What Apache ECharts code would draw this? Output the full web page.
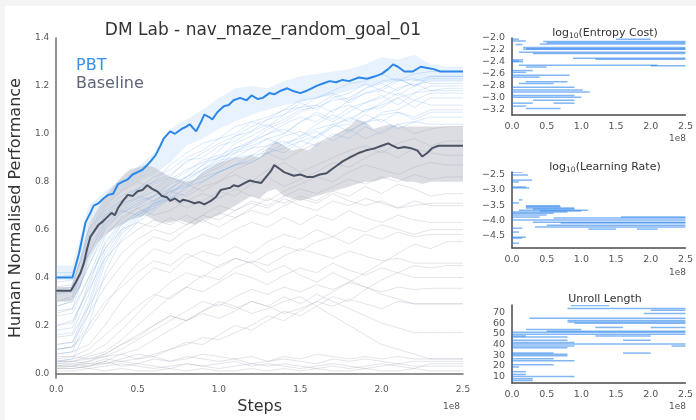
<!DOCTYPE html>
<html>
<head>
<meta charset="utf-8">
<script src="https://cdn.jsdelivr.net/npm/echarts@6/dist/echarts.min.js"></script>
<style>
  html, body { margin: 0; padding: 0; background: #f4f4f4; }
  #chart { width: 696px; height: 420px; }
</style>
</head>
<body>
<div id="chart"></div>
<script>
// steps are in units of 1e8
const runSteps = [0, 0.1, 0.2, 0.3, 0.4, 0.5, 0.6, 0.7, 0.8, 0.9, 1.0, 1.1, 1.2, 1.3, 1.4, 1.5, 1.6, 1.7, 1.8, 1.9, 2.0, 2.1, 2.2, 2.3, 2.4, 2.5]

const baselineRuns = [
  [0.30,0.32,0.55,0.66,0.70,0.74,0.72,0.76,0.74,0.78,0.80,0.83,0.80,0.85,0.88,0.84,0.87,0.90,0.93,0.95,0.92,0.96,0.98,0.95,0.97,0.97],
  [0.33,0.35,0.50,0.62,0.68,0.66,0.70,0.73,0.69,0.72,0.76,0.74,0.79,0.82,0.78,0.81,0.84,0.88,0.86,0.90,0.93,0.90,0.94,0.92,0.91,0.91],
  [0.28,0.30,0.45,0.58,0.64,0.69,0.66,0.68,0.72,0.75,0.73,0.77,0.74,0.72,0.76,0.79,0.82,0.80,0.84,0.87,0.85,0.83,0.86,0.88,0.87,0.87],
  [0.36,0.37,0.60,0.70,0.76,0.80,0.77,0.82,0.79,0.76,0.80,0.85,0.88,0.92,0.89,0.93,0.96,0.99,1.02,0.98,1.01,1.04,1.00,1.02,1.03,1.03],
  [0.25,0.27,0.40,0.52,0.60,0.63,0.61,0.65,0.62,0.66,0.70,0.68,0.72,0.70,0.74,0.77,0.75,0.78,0.81,0.79,0.82,0.80,0.83,0.81,0.82,0.82],
  [0.20,0.22,0.35,0.48,0.55,0.60,0.64,0.62,0.66,0.63,0.67,0.65,0.69,0.73,0.71,0.74,0.72,0.76,0.74,0.78,0.75,0.79,0.77,0.74,0.75,0.75],
  [0.15,0.16,0.28,0.40,0.50,0.56,0.60,0.58,0.62,0.66,0.64,0.68,0.71,0.69,0.73,0.70,0.68,0.72,0.70,0.73,0.71,0.69,0.72,0.70,0.70,0.70],
  [0.10,0.11,0.18,0.28,0.38,0.46,0.52,0.50,0.55,0.58,0.56,0.60,0.63,0.61,0.65,0.62,0.66,0.64,0.68,0.65,0.63,0.66,0.64,0.63,0.63,0.63],
  [0.08,0.09,0.12,0.20,0.30,0.38,0.44,0.42,0.48,0.51,0.49,0.53,0.50,0.55,0.58,0.56,0.60,0.57,0.61,0.59,0.62,0.60,0.58,0.60,0.60,0.60],
  [0.05,0.06,0.08,0.12,0.18,0.25,0.32,0.38,0.42,0.40,0.45,0.48,0.46,0.50,0.53,0.51,0.55,0.57,0.54,0.58,0.56,0.59,0.57,0.58,0.58,0.58],
  [0.04,0.05,0.07,0.09,0.14,0.20,0.26,0.32,0.36,0.41,0.39,0.44,0.47,0.45,0.49,0.52,0.50,0.48,0.51,0.49,0.47,0.48,0.46,0.46,0.46,0.46],
  [0.06,0.07,0.10,0.16,0.22,0.28,0.33,0.31,0.36,0.34,0.38,0.42,0.40,0.37,0.41,0.44,0.42,0.46,0.43,0.41,0.44,0.42,0.40,0.40,0.40,0.40],
  [0.03,0.04,0.05,0.07,0.10,0.14,0.18,0.22,0.26,0.30,0.28,0.32,0.35,0.33,0.36,0.34,0.37,0.35,0.38,0.36,0.34,0.36,0.35,0.355,0.355,0.355],
  [0.05,0.05,0.06,0.08,0.12,0.15,0.20,0.24,0.22,0.26,0.29,0.27,0.30,0.28,0.25,0.27,0.30,0.28,0.31,0.29,0.27,0.30,0.29,0.29,0.29,0.29],
  [0.02,0.02,0.03,0.04,0.05,0.06,0.08,0.10,0.13,0.12,0.16,0.20,0.18,0.22,0.26,0.24,0.28,0.32,0.30,0.35,0.39,0.42,0.45,0.44,0.45,0.45],
  [0.03,0.03,0.04,0.04,0.06,0.08,0.07,0.10,0.12,0.15,0.14,0.17,0.20,0.24,0.22,0.26,0.30,0.34,0.38,0.42,0.46,0.50,0.54,0.52,0.55,0.55],
  [0.02,0.03,0.05,0.08,0.12,0.16,0.20,0.24,0.22,0.26,0.30,0.28,0.25,0.27,0.30,0.32,0.28,0.24,0.20,0.16,0.12,0.10,0.08,0.06,0.06,0.06],
  [0.02,0.02,0.03,0.05,0.08,0.10,0.14,0.18,0.22,0.25,0.23,0.26,0.30,0.28,0.32,0.29,0.33,0.30,0.27,0.24,0.21,0.19,0.17,0.17,0.17,0.17],
  [0.05,0.05,0.04,0.06,0.05,0.04,0.06,0.05,0.07,0.06,0.05,0.06,0.04,0.05,0.06,0.05,0.04,0.06,0.05,0.06,0.05,0.04,0.05,0.05,0.05,0.05],
  [0.03,0.03,0.02,0.03,0.04,0.03,0.02,0.03,0.04,0.03,0.04,0.05,0.03,0.04,0.03,0.02,0.03,0.04,0.03,0.02,0.03,0.04,0.03,0.03,0.03,0.03],
  [0.01,0.01,0.02,0.01,0.02,0.01,0.01,0.02,0.01,0.02,0.01,0.01,0.02,0.01,0.02,0.01,0.02,0.01,0.01,0.02,0.01,0.01,0.02,0.01,0.01,0.01],
  [0.07,0.07,0.06,0.07,0.08,0.06,0.07,0.05,0.06,0.08,0.07,0.06,0.07,0.05,0.07,0.06,0.08,0.07,0.06,0.07,0.06,0.07,0.06,0.06,0.06,0.06],
  [0.04,0.04,0.03,0.05,0.03,0.04,0.03,0.02,0.04,0.03,0.02,0.03,0.04,0.03,0.04,0.03,0.02,0.03,0.02,0.03,0.04,0.03,0.02,0.04,0.04,0.04],
  [0.10,0.11,0.20,0.30,0.36,0.42,0.47,0.45,0.50,0.47,0.44,0.48,0.46,0.42,0.45,0.41,0.38,0.42,0.39,0.36,0.33,0.31,0.29,0.29,0.29,0.29],
  [0.12,0.13,0.25,0.36,0.45,0.52,0.57,0.55,0.60,0.64,0.61,0.65,0.68,0.66,0.70,0.73,0.71,0.75,0.72,0.70,0.72,0.69,0.70,0.71,0.71,0.71]
]

const pbtRuns = [
  [0.42,0.42,0.60,0.68,0.72,0.77,0.80,0.87,0.92,0.96,0.98,1.03,1.05,1.03,1.08,1.11,1.12,1.09,1.14,1.17,1.18,1.16,1.20,1.22,1.22,1.22],
  [0.38,0.39,0.55,0.66,0.71,0.73,0.79,0.82,0.89,0.90,0.95,0.97,1.01,1.04,1.00,1.05,1.09,1.06,1.11,1.13,1.16,1.12,1.17,1.18,1.18,1.18],
  [0.33,0.34,0.50,0.63,0.68,0.72,0.74,0.80,0.84,0.89,0.91,0.94,0.96,1.00,1.02,0.99,1.04,1.08,1.05,1.10,1.12,1.15,1.11,1.15,1.15,1.15],
  [0.28,0.30,0.45,0.60,0.67,0.70,0.74,0.77,0.82,0.85,0.89,0.90,0.94,0.95,0.99,1.01,0.98,1.03,1.07,1.04,1.09,1.10,1.14,1.12,1.12,1.12],
  [0.24,0.25,0.40,0.57,0.65,0.69,0.72,0.76,0.78,0.83,0.86,0.90,0.91,0.95,0.97,0.94,0.99,1.03,1.04,1.08,1.05,1.09,1.06,1.09,1.09,1.09],
  [0.20,0.21,0.36,0.55,0.63,0.67,0.71,0.73,0.78,0.80,0.84,0.87,0.91,0.92,0.96,0.98,1.01,0.97,1.01,1.05,1.06,1.02,1.05,1.07,1.07,1.07],
  [0.16,0.17,0.33,0.52,0.62,0.66,0.69,0.73,0.75,0.80,0.84,0.87,0.88,0.92,0.94,0.97,0.99,1.04,1.06,1.10,1.11,1.15,1.17,1.20,1.20,1.20],
  [0.12,0.13,0.30,0.50,0.60,0.66,0.71,0.77,0.82,0.87,0.90,0.96,0.99,1.03,1.06,1.10,1.11,1.14,1.15,1.19,1.21,1.18,1.22,1.24,1.24,1.24],
  [0.08,0.09,0.25,0.46,0.58,0.64,0.71,0.74,0.81,0.85,0.90,0.92,0.97,1.00,1.04,1.07,1.05,1.10,1.12,1.09,1.13,1.17,1.14,1.17,1.17,1.17],
  [0.05,0.06,0.20,0.42,0.56,0.63,0.68,0.73,0.77,0.84,0.87,0.92,0.94,0.98,1.00,1.05,1.08,1.05,1.09,1.13,1.15,1.19,1.21,1.18,1.19,1.19],
  [0.35,0.36,0.58,0.69,0.74,0.77,0.82,0.85,0.90,0.93,0.98,1.00,1.05,1.07,1.10,1.11,1.15,1.17,1.14,1.19,1.22,1.23,1.20,1.24,1.24,1.24],
  [0.30,0.31,0.52,0.64,0.69,0.73,0.76,0.81,0.85,0.88,0.90,0.93,0.95,0.98,0.95,0.99,1.02,1.04,1.01,1.05,1.08,1.09,1.07,1.10,1.10,1.10],
  [0.26,0.27,0.47,0.61,0.67,0.71,0.74,0.79,0.82,0.87,0.93,0.99,1.01,1.06,1.08,1.13,1.10,1.15,1.17,1.21,1.18,1.22,1.23,1.21,1.21,1.21],
  [0.18,0.19,0.38,0.54,0.62,0.67,0.70,0.76,0.79,0.82,0.84,0.87,0.89,0.94,0.92,0.97,0.95,1.00,0.98,1.03,1.00,1.04,1.05,1.04,1.04,1.04],
  [0.10,0.11,0.28,0.48,0.59,0.65,0.69,0.75,0.80,0.85,0.88,0.94,0.97,1.02,1.05,1.09,1.12,1.16,1.13,1.17,1.19,1.23,1.20,1.23,1.23,1.23],
  [0.40,0.41,0.57,0.67,0.72,0.75,0.80,0.83,0.88,0.92,0.96,0.99,1.03,1.06,1.10,1.14,1.15,1.18,1.21,1.22,1.25,1.22,1.25,1.26,1.26,1.26]
]

const pbtBandLow  = [0.39,0.39,0.62,0.70,0.76,0.80,0.83,0.88,0.95,0.98,1.02,1.05,1.08,1.10,1.12,1.13,1.15,1.16,1.18,1.20,1.21,1.22,1.22,1.22,1.22,1.22]
const pbtBandHigh = [0.45,0.45,0.70,0.76,0.81,0.86,0.92,1.02,1.06,1.10,1.15,1.19,1.20,1.19,1.22,1.24,1.25,1.26,1.27,1.29,1.32,1.31,1.33,1.29,1.28,1.28]

const pbtBest = [[0,0.40],[0.10,0.40],[0.14,0.50],[0.18,0.63],[0.21,0.67],[0.23,0.70],[0.26,0.71],[0.29,0.73],[0.32,0.745],[0.35,0.75],[0.38,0.79],[0.41,0.80],[0.44,0.81],[0.47,0.83],[0.50,0.84],[0.53,0.85],[0.56,0.87],[0.58,0.885],[0.61,0.91],[0.64,0.95],[0.66,0.98],[0.70,1.01],[0.73,1.00],[0.77,1.02],[0.80,1.03],[0.82,1.04],[0.86,1.01],[0.89,1.05],[0.91,1.08],[0.94,1.07],[0.96,1.06],[0.99,1.09],[1.03,1.115],[1.06,1.12],[1.09,1.14],[1.13,1.15],[1.17,1.14],[1.20,1.16],[1.24,1.145],[1.27,1.15],[1.31,1.17],[1.34,1.165],[1.38,1.18],[1.42,1.19],[1.45,1.18],[1.50,1.17],[1.54,1.18],[1.57,1.19],[1.60,1.20],[1.64,1.21],[1.68,1.22],[1.72,1.215],[1.76,1.225],[1.80,1.22],[1.86,1.235],[1.91,1.23],[1.96,1.24],[2.00,1.25],[2.04,1.27],[2.07,1.29],[2.10,1.28],[2.14,1.26],[2.19,1.26],[2.24,1.28],[2.28,1.275],[2.32,1.27],[2.36,1.26],[2.40,1.26],[2.50,1.26]]

const baselineMean = [[0,0.345],[0.09,0.345],[0.12,0.38],[0.15,0.42],[0.17,0.46],[0.19,0.52],[0.21,0.57],[0.24,0.60],[0.26,0.62],[0.28,0.63],[0.31,0.65],[0.34,0.67],[0.36,0.66],[0.38,0.69],[0.41,0.72],[0.44,0.745],[0.47,0.74],[0.50,0.76],[0.53,0.765],[0.56,0.785],[0.59,0.77],[0.62,0.76],[0.65,0.74],[0.68,0.735],[0.70,0.72],[0.73,0.73],[0.76,0.715],[0.78,0.725],[0.81,0.72],[0.85,0.71],[0.88,0.715],[0.91,0.705],[0.95,0.72],[0.98,0.735],[1.01,0.765],[1.04,0.77],[1.07,0.775],[1.09,0.785],[1.12,0.78],[1.16,0.795],[1.19,0.805],[1.22,0.80],[1.26,0.795],[1.29,0.82],[1.32,0.845],[1.34,0.87],[1.37,0.855],[1.40,0.84],[1.42,0.835],[1.46,0.825],[1.50,0.83],[1.54,0.82],[1.58,0.82],[1.62,0.83],[1.66,0.835],[1.70,0.855],[1.73,0.87],[1.76,0.885],[1.80,0.90],[1.83,0.91],[1.86,0.92],[1.90,0.93],[1.93,0.935],[1.96,0.94],[2.00,0.95],[2.04,0.96],[2.07,0.95],[2.10,0.94],[2.14,0.945],[2.18,0.94],[2.22,0.93],[2.25,0.905],[2.28,0.92],[2.31,0.94],[2.35,0.95],[2.40,0.95],[2.50,0.95]]

const bandSteps = [0,0.09,0.15,0.20,0.25,0.30,0.35,0.40,0.45,0.50,0.55,0.60,0.65,0.70,0.75,0.80,0.85,0.90,0.95,1.00,1.05,1.10,1.15,1.20,1.25,1.30,1.35,1.40,1.45,1.50,1.55,1.60,1.65,1.70,1.75,1.80,1.85,1.90,1.95,2.00,2.05,2.10,2.15,2.20,2.25,2.30,2.40,2.50]
const baseBandLow  = [0.30,0.30,0.36,0.48,0.54,0.58,0.60,0.62,0.64,0.65,0.66,0.64,0.63,0.63,0.64,0.63,0.62,0.64,0.65,0.66,0.68,0.70,0.72,0.74,0.73,0.76,0.77,0.74,0.73,0.72,0.73,0.74,0.75,0.76,0.77,0.78,0.79,0.80,0.80,0.81,0.82,0.81,0.80,0.80,0.79,0.80,0.80,0.80]
const baseBandHigh = [0.36,0.36,0.48,0.62,0.68,0.74,0.78,0.82,0.85,0.86,0.87,0.86,0.84,0.82,0.81,0.80,0.81,0.84,0.86,0.88,0.89,0.90,0.90,0.91,0.90,0.94,0.97,0.95,0.93,0.94,0.93,0.96,0.97,0.99,1.01,1.03,1.06,1.05,1.02,1.03,1.04,1.03,1.03,1.03,1.03,1.03,1.03,1.03]

// hyperparameter segments: [start step, end step, value]
const entropySegs = [[0.45,2.5,-2.06],[0.5,2.5,-2.08],[0.4,2.5,-2.10],[0.16,2.5,-2.16],[0.2,2.5,-2.18],[0.16,2.5,-2.19],[0.1,2.5,-2.24],[0.3,2.5,-2.26],[0.88,2.5,-2.34],[1.2,2.5,-2.36],[0,0.16,-2.37],[0,0.16,-2.40],[0,0.1,-2.39],[0.1,2.1,-2.46],[2.0,2.5,-2.47],[0.2,0.5,-2.49],[0,0.1,-2.02],[0,0.2,-2.05],[1.5,2.0,-2.02],[0.05,0.15,-2.11],[0,0.83,-2.63],[0,0.4,-2.66],[0.2,0.8,-2.74],[0.1,0.6,-2.77],[0,0.9,-2.83],[0,1.02,-2.88],[0,1.12,-2.91],[0,0.9,-2.97],[0,1.0,-3.0],[0.3,0.9,-3.05],[0,0.3,-3.1],[0.6,0.9,-3.1],[0,0.2,-3.15],[0.2,0.7,-3.19],[0,0.3,-2.55],[0,0.2,-2.58]]
const lrSegs = [[0,0.15,-2.4],[0,0.23,-2.5],[0,0.29,-2.67],[0,0.1,-2.73],[0,0.2,-2.9],[0,0.25,-2.93],[0.1,0.15,-3.33],[0,0.1,-3.43],[0.2,0.69,-3.52],[0.2,0.7,-3.56],[0.2,0.9,-3.6],[0.1,1.1,-3.67],[0.0,0.8,-3.73],[0.0,0.6,-3.77],[0,0.5,-3.83],[0,0.4,-3.9],[1.57,2.5,-3.9],[0.6,2.5,-3.93],[0,2.5,-4.0],[0.3,2.5,-4.07],[0.7,2.5,-4.1],[0.5,2.5,-4.17],[0.33,2.5,-4.23],[1.1,1.5,-4.3],[1.8,2.1,-4.3],[0,0.15,-4.27],[0,0.1,-4.4],[0,0.2,-4.57],[0,0.15,-4.6],[0,0.1,-4.77],[0.3,0.9,-3.63],[0.4,1.0,-3.7]]
const unrollSegs = [[0.85,1.4,76.5],[0.8,2.5,73.7],[2.0,2.5,72],[1.9,2.5,69],[0.25,2.5,64.5],[0.8,2.5,62.6],[0.8,2.5,61],[0.9,2.5,60],[1.2,1.6,56],[2.0,2.5,56],[0.2,1.0,54],[0.5,2.5,52.5],[0,2.5,51.5],[0,2.5,49.7],[0,0.2,48],[1.2,2.0,48],[0,0.8,47],[0,0.8,44],[1.6,2.0,44],[0,0.9,42],[0,2.5,40.5],[0,0.9,38.6],[2.3,2.5,38.6],[0,0.8,37],[1.6,2.0,32],[0,0.6,32],[0,0.8,31],[0,0.8,29.4],[0,0.6,26.6],[0,0.9,24.8],[0,0.6,21],[0,0.1,19],[0,0.2,14.6],[0,0.2,12],[0,0.9,10],[0,0.3,8],[0,0.3,6.3]]

const mainYTicks = [0, 0.2, 0.4, 0.6, 0.8, 1.0, 1.2, 1.4]
const entropyTicks = [-3.2, -3.0, -2.8, -2.6, -2.4, -2.2, -2.0]
const lrTicks = [-4.5, -4.0, -3.5, -3.0, -2.5]
const unrollTicks = [10, 20, 30, 40, 50, 60, 70]

const FONT = 'DejaVu Sans'
const chart = echarts.init(document.getElementById('chart'))

const minus = v => v.toFixed(1).replace('-', '\u2212')

function xAxisFor(grid, fontSize) {
  return {
    type: 'value', gridIndex: grid, min: 0, max: 2.5, interval: 0.5,
    axisLine: { lineStyle: { color: grid === 0 ? '#6e6e6e' : '#4a4a4a', width: 1.5 } },
    axisTick: { show: false }, splitLine: { show: false },
    axisLabel: { color: '#555', fontSize: fontSize, fontFamily: FONT, margin: 7, formatter: v => v.toFixed(1) }
  }
}

function yAxisFor(grid, min, max, ticks, fmt, fontSize) {
  return {
    type: 'value', gridIndex: grid, min: min, max: max,
    axisLine: { show: true, lineStyle: { color: grid === 0 ? '#6e6e6e' : '#4a4a4a', width: 1.5 } },
    axisTick: { show: false }, splitLine: { show: false },
    axisLabel: { color: '#555', fontSize: fontSize, fontFamily: FONT, margin: 7, customValues: ticks, formatter: fmt }
  }
}

function segRender(params, api) {
  const a = api.coord([api.value(0), api.value(2)])
  const b = api.coord([api.value(1), api.value(2)])
  return {
    type: 'line',
    shape: { x1: a[0], y1: a[1], x2: b[0], y2: b[1] },
    style: { stroke: 'rgba(40,130,235,0.58)', lineWidth: 1.5 }
  }
}

const series = []

// shaded range drawn as one polygon through the axis scales
function band(steps, low, high, color) {
  series.push({
    type: 'custom', xAxisIndex: 0, yAxisIndex: 0, data: [[steps[0], low[0]]], silent: true, z: 1,
    renderItem: (params, api) => {
      const top = steps.map((s, i) => api.coord([s, high[i]]))
      const bottom = steps.map((s, i) => api.coord([s, low[i]])).reverse()
      return { type: 'polygon', shape: { points: top.concat(bottom) }, style: { fill: color } }
    }
  })
}

band(runSteps, pbtBandLow, pbtBandHigh, 'rgba(150,195,245,0.22)')
band(bandSteps, baseBandLow, baseBandHigh, 'rgba(185,188,198,0.5)')

baselineRuns.forEach(run => {
  series.push({
    type: 'line', data: runSteps.map((s, i) => [s, run[i]]), symbol: 'none', silent: true,
    lineStyle: { color: 'rgba(165,170,185,0.32)', width: 1 }, z: 2
  })
})
pbtRuns.forEach(run => {
  series.push({
    type: 'line', data: runSteps.map((s, i) => [s, run[i]]), symbol: 'none', silent: true,
    lineStyle: { color: 'rgba(95,165,240,0.24)', width: 1 }, z: 3
  })
})

series.push({
  type: 'line', data: baselineMean, symbol: 'none', silent: true,
  lineStyle: { color: '#4b5264', width: 2 }, z: 5
})
series.push({
  type: 'line', data: pbtBest, symbol: 'none', silent: true,
  lineStyle: { color: '#2c87e8', width: 2 }, z: 6
})

;[entropySegs, lrSegs, unrollSegs].forEach((segs, k) => {
  series.push({
    type: 'custom', xAxisIndex: k + 1, yAxisIndex: k + 1, data: segs,
    encode: { x: [0, 1], y: 2 }, renderItem: segRender, silent: true, clip: true
  })
})

chart.setOption({
  animation: false,
  backgroundColor: '#f4f4f4',
  grid: [
    { left: 55, top: 38, width: 408, height: 345 },
    { left: 512, top: 38, width: 175, height: 77 },
    { left: 512, top: 172, width: 175, height: 76 },
    { left: 512, top: 305, width: 175, height: 78 }
  ],
  title: [
    { text: 'DM Lab - nav_maze_random_goal_01', left: 258, top: 17, textAlign: 'center',
      textStyle: { fontFamily: FONT, fontSize: 17, fontWeight: 'normal', color: '#333' } },
    { text: 'log{s|10}(Entropy Cost)', left: 600, top: 21, textAlign: 'center',
      textStyle: { fontFamily: FONT, fontSize: 11, fontWeight: 'normal', color: '#333',
        rich: { s: { fontSize: 7.5, fontFamily: FONT, color: '#333', padding: [6, 0, 0, 0] } } } },
    { text: 'log{s|10}(Learning Rate)', left: 600, top: 155, textAlign: 'center',
      textStyle: { fontFamily: FONT, fontSize: 11, fontWeight: 'normal', color: '#333',
        rich: { s: { fontSize: 7.5, fontFamily: FONT, color: '#333', padding: [6, 0, 0, 0] } } } },
    { text: 'Unroll Length', left: 600, top: 289, textAlign: 'center',
      textStyle: { fontFamily: FONT, fontSize: 11, fontWeight: 'normal', color: '#333' } }
  ],
  xAxis: [
    Object.assign(xAxisFor(0, 9), { name: 'Steps', nameLocation: 'middle', nameGap: 18,
      nameTextStyle: { fontFamily: FONT, fontSize: 16, color: '#333' } }),
    xAxisFor(1, 9.5), xAxisFor(2, 9.5), xAxisFor(3, 9.5)
  ],
  yAxis: [
    Object.assign(yAxisFor(0, -0.02, 1.4, mainYTicks, v => v.toFixed(1), 9), {
      name: 'Human Normalised Performance', nameLocation: 'middle', nameGap: 29,
      nameTextStyle: { fontFamily: FONT, fontSize: 16, color: '#333' } }),
    yAxisFor(1, -3.3, -2.0, entropyTicks, minus, 9.5),
    yAxisFor(2, -4.93, -2.4, lrTicks, minus, 9.5),
    yAxisFor(3, 4, 77, unrollTicks, v => String(v), 9.5)
  ],
  graphic: [
    { type: 'rect', shape: { x: 5, y: 6, width: 691, height: 414 }, style: { fill: '#fff' }, z: -10, silent: true },
    { type: 'text', x: 76, y: 58, style: { text: 'PBT', fill: '#3a8ee8', font: '16px "DejaVu Sans"' } },
    { type: 'text', x: 76, y: 76, style: { text: 'Baseline', fill: '#5d6577', font: '16px "DejaVu Sans"' } },
    { type: 'text', x: 443, y: 402, style: { text: '1e8', fill: '#555', font: '9px "DejaVu Sans"' } },
    { type: 'text', x: 669, y: 134, style: { text: '1e8', fill: '#555', font: '9px "DejaVu Sans"' } },
    { type: 'text', x: 669, y: 268, style: { text: '1e8', fill: '#555', font: '9px "DejaVu Sans"' } },
    { type: 'text', x: 669, y: 402, style: { text: '1e8', fill: '#555', font: '9px "DejaVu Sans"' } }
  ],
  series: series
})
</script>
</body>
</html>
